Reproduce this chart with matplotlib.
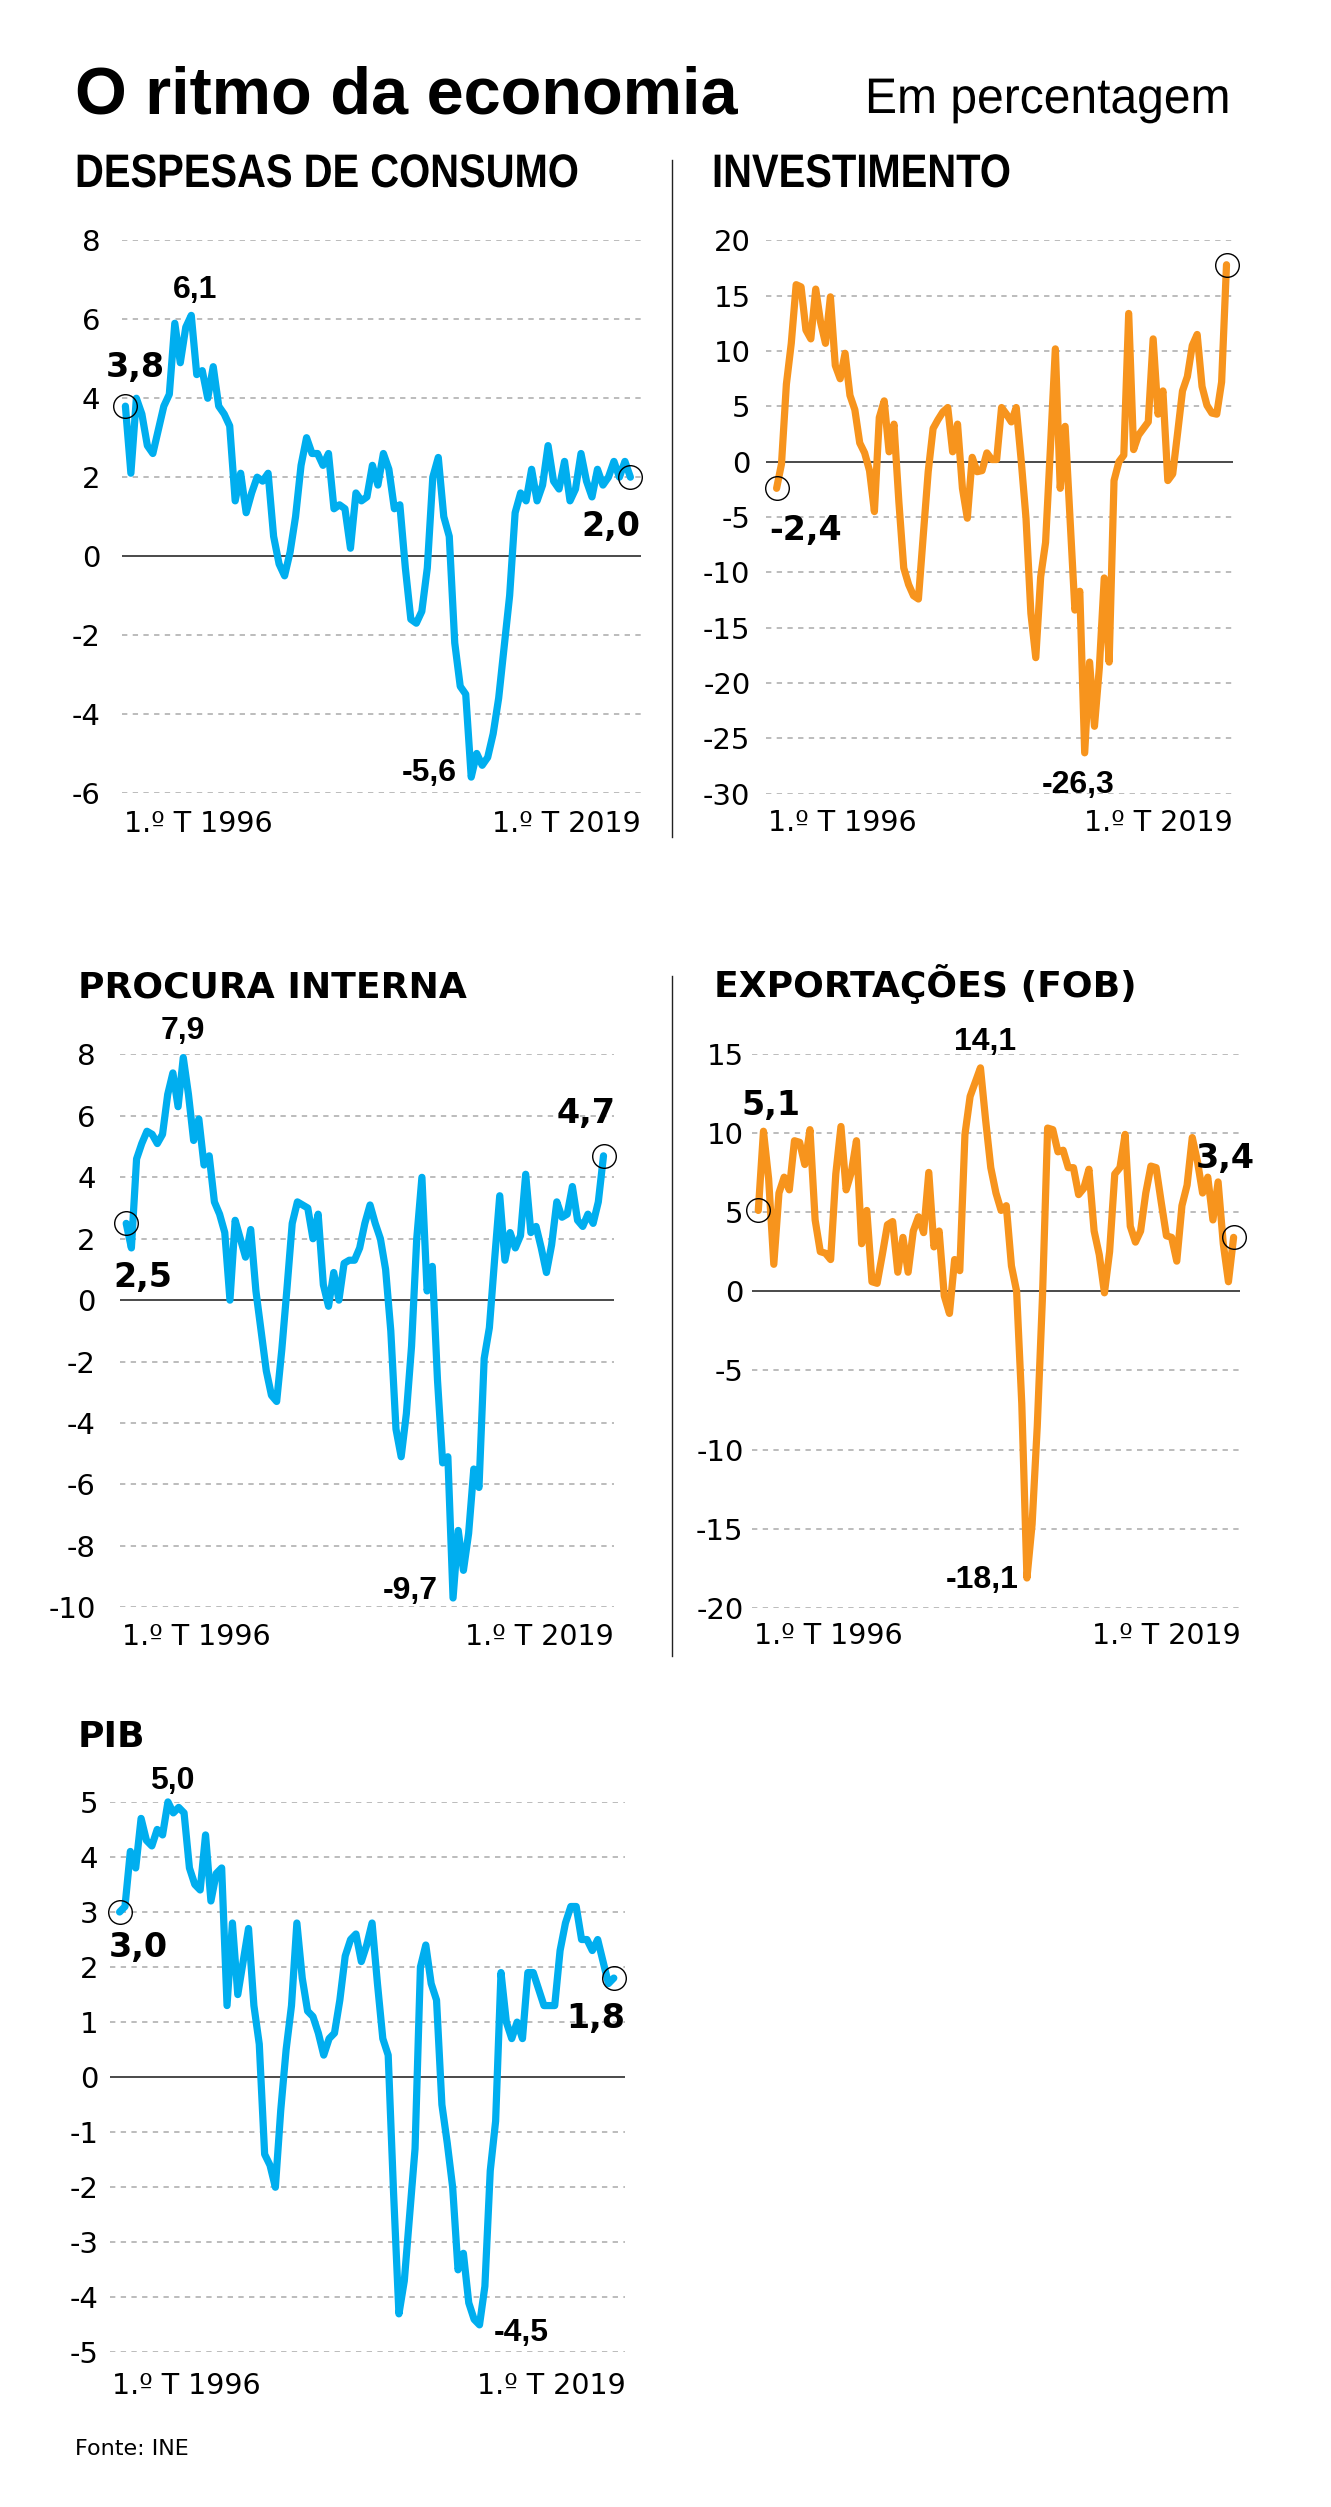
import numpy as np
import matplotlib
matplotlib.use("Agg")
import matplotlib.pyplot as plt
from matplotlib.textpath import TextPath
from matplotlib.patches import PathPatch
from matplotlib.font_manager import FontProperties
from matplotlib.transforms import Affine2D

W, H = 1331, 2507
AZUL = '#00aeef'
LARANJA = '#f7941d'

# trimestres de 1.º T 1996 a 1.º T 2019
trimestres = np.arange(93)
rotulo_ini = '1.º T 1996'
rotulo_fim = '1.º T 2019'

consumo = [3.8, 2.1, 4.0, 3.6, 2.8, 2.6, 3.2, 3.8, 4.1, 5.9,
           4.9, 5.8, 6.1, 4.6, 4.7, 4.0, 4.8, 3.8, 3.6, 3.3,
           1.4, 2.1, 1.1, 1.6, 2.0, 1.9, 2.1, 0.5, -0.2, -0.5,
           0.1, 1.0, 2.3, 3.0, 2.6, 2.6, 2.3, 2.6, 1.2, 1.3,
           1.2, 0.2, 1.6, 1.4, 1.5, 2.3, 1.8, 2.6, 2.2, 1.2,
           1.3, -0.3, -1.6, -1.7, -1.4, -0.3, 2.0, 2.5, 1.0, 0.5,
           -2.2, -3.3, -3.5, -5.6, -5.0, -5.3, -5.1, -4.5, -3.6, -2.3,
           -1.0, 1.1, 1.6, 1.4, 2.2, 1.4, 1.8, 2.8, 1.9, 1.7,
           2.4, 1.4, 1.7, 2.6, 1.9, 1.5, 2.2, 1.8, 2.0, 2.4,
           2.0, 2.4, 2.0]

investimento = [-2.4, -0.2, 7.0, 10.7, 16.0, 15.8, 11.9, 11.1, 15.6, 12.6,
                10.7, 14.9, 8.7, 7.5, 9.8, 6.0, 4.7, 1.7, 0.8, -0.8,
                -4.5, 4.0, 5.5, 0.9, 3.4, -3.6, -9.6, -11.1, -12.1, -12.4,
                -6.6, -0.9, 3.0, 3.8, 4.5, 4.9, 0.9, 3.4, -2.4, -5.1,
                0.4, -0.9, -0.8, 0.8, 0.2, 0.2, 4.9, 4.3, 3.6, 4.9,
                0.2, -5.1, -13.7, -17.7, -10.4, -7.3, 1.3, 10.2, -2.4, 3.2,
                -5.1, -13.4, -11.7, -26.3, -18.1, -23.9, -18.6, -10.5, -18.1, -1.7,
                0.0, 0.6, 13.4, 1.1, 2.4, 3.0, 3.6, 11.1, 4.3, 6.4,
                -1.7, -1.1, 2.6, 6.4, 7.7, 10.5, 11.5, 6.8, 5.1, 4.4,
                4.3, 7.2, 17.8]

procura = [2.5, 1.7, 4.6, 5.1, 5.5, 5.4, 5.1, 5.4, 6.7, 7.4,
           6.3, 7.9, 6.7, 5.2, 5.9, 4.4, 4.7, 3.2, 2.8, 2.2,
           0.0, 2.6, 2.0, 1.4, 2.3, 0.3, -1.0, -2.3, -3.1, -3.3,
           -1.6, 0.4, 2.5, 3.2, 3.1, 3.0, 2.0, 2.8, 0.5, -0.2,
           0.9, 0.0, 1.2, 1.3, 1.3, 1.7, 2.5, 3.1, 2.5, 2.0,
           1.0, -1.0, -4.2, -5.1, -3.7, -1.5, 2.0, 4.0, 0.3, 1.1,
           -2.6, -5.3, -5.1, -9.7, -7.5, -8.8, -7.6, -5.5, -6.1, -1.9,
           -0.9, 1.3, 3.4, 1.3, 2.2, 1.7, 2.1, 4.1, 2.2, 2.4,
           1.7, 0.9, 1.8, 3.2, 2.7, 2.8, 3.7, 2.6, 2.4, 2.8,
           2.5, 3.2, 4.7]

exportacoes = [5.1, 10.1, 7.1, 1.7, 6.2, 7.2, 6.4, 9.5, 9.4, 8.0,
               10.2, 4.5, 2.5, 2.4, 2.0, 7.4, 10.4, 6.4, 7.5, 9.5,
               3.0, 5.1, 0.6, 0.5, 2.3, 4.2, 4.4, 1.2, 3.4, 1.2,
               3.8, 4.7, 3.7, 7.5, 2.8, 3.8, -0.3, -1.4, 2.0, 1.3,
               9.9, 12.3, 13.2, 14.1, 10.8, 7.8, 6.2, 5.1, 5.4, 1.6,
               0.0, -7.1, -18.1, -14.7, -8.5, -0.4, 10.3, 10.2, 8.8, 8.9,
               7.8, 7.8, 6.1, 6.5, 7.7, 3.8, 2.3, -0.1, 2.5, 7.4,
               7.8, 9.9, 4.1, 3.1, 3.8, 6.2, 7.9, 7.8, 5.6, 3.5,
               3.4, 1.9, 5.4, 6.7, 9.7, 8.2, 6.2, 7.2, 4.5, 6.9,
               3.0, 0.6, 3.4]

pib = [3.0, 3.1, 4.1, 3.8, 4.7, 4.3, 4.2, 4.5, 4.4, 5.0,
       4.8, 4.9, 4.8, 3.8, 3.5, 3.4, 4.4, 3.2, 3.7, 3.8,
       1.3, 2.8, 1.5, 2.1, 2.7, 1.3, 0.6, -1.4, -1.6, -2.0,
       -0.6, 0.5, 1.3, 2.8, 1.8, 1.2, 1.1, 0.8, 0.4, 0.7,
       0.8, 1.4, 2.2, 2.5, 2.6, 2.1, 2.4, 2.8, 1.7, 0.7,
       0.4, -2.1, -4.3, -3.7, -2.5, -1.3, 2.0, 2.4, 1.7, 1.4,
       -0.5, -1.2, -2.0, -3.5, -3.2, -4.1, -4.4, -4.5, -3.8, -1.7,
       -0.8, 1.9, 1.0, 0.7, 1.0, 0.7, 1.9, 1.9, 1.6, 1.3,
       1.3, 1.3, 2.3, 2.8, 3.1, 3.1, 2.5, 2.5, 2.3, 2.5,
       2.1, 1.7, 1.8]

# cada painel: titulo, serie, cor, ticks, posicao (px) e deslocamento dos rotulos (px)
paineis = [
    dict(titulo='DESPESAS DE CONSUMO', serie=consumo, cor=AZUL,
         ticks=np.arange(-6, 9, 2), gx=(121.5, 640.8), dx=(125.4, 630.4), gy=(240.4, 792.9),
         pad=21, xl=31, tit=(75, 187), cond=True,
         rot=[('ini', 10, 39, True), ('max', 4, 25, False), ('min', -42, 4, False), ('fim', -20, -49, True)]),
    dict(titulo='INVESTIMENTO', serie=investimento, cor=LARANJA,
         ticks=np.arange(-30, 21, 5), gx=(765.5, 1232.5), dx=(776.6, 1226.5), gy=(240.4, 793.8),
         pad=15, xl=29, tit=(712, 187), cond=True,
         rot=[('ini', 29, -42, True), ('min', -7, -32, False)]),
    dict(titulo='PROCURA INTERNA', serie=procura, cor=AZUL,
         ticks=np.arange(-10, 9, 2), gx=(119.6, 613.8), dx=(126.2, 603.5), gy=(1054.5, 1607.2),
         pad=24, xl=30, tit=(78, 997), cond=False,
         rot=[('ini', 17, -54, True), ('max', 0, 27, False), ('fim', -17, 42, True), ('min', -43, 7, False)]),
    dict(titulo='EXPORTAÇÕES (FOB)', serie=exportacoes, cor=LARANJA,
         ticks=np.arange(-20, 16, 5), gx=(751.5, 1240.4), dx=(758.3, 1233.6), gy=(1053.6, 1608.1),
         pad=8, xl=28, tit=(714, 997), cond=False,
         rot=[('ini', 13, 105, True), ('max', 5, 26, False), ('min', -45, -2, False), ('fim', -8, 79, True)]),
    dict(titulo='PIB', serie=pib, cor=AZUL,
         ticks=np.arange(-5, 6, 1), gx=(110.0, 625.4), dx=(119.6, 613.8), gy=(1801.9, 2352.4),
         pad=11.5, xl=34, tit=(78, 1747), cond=False,
         rot=[('ini', 19, -36, True), ('max', 4, 21, False), ('fim', -18, -40, True), ('min', 42, -8, False)]),
]


def texto_estreito(fig, x, y, s, em, esc, peso='bold'):
    # texto condensado: caminho do texto comprimido na horizontal (px da figura)
    tp = TextPath((0, 0), s, size=em, prop=FontProperties(family='Liberation Sans', weight=peso))
    tr = Affine2D().scale(esc, 1).translate(x, H - y)
    fig.add_artist(PathPatch(tp, transform=tr, facecolor='black', edgecolor='none'))


fig = plt.figure(figsize=(W / 100, H / 100), dpi=100)
fig.patch.set_facecolor('white')

fig.text(75 / W, 1 - 113 / H, 'O ritmo da economia', fontsize=48, fontweight='bold',
         family=['Liberation Sans', 'DejaVu Sans'], va='baseline', ha='left')
texto_estreito(fig, 865, 113, 'Em percentagem', 50, 0.96, peso='normal')

for p in paineis:
    y = np.array(p['serie'])
    n = len(y)
    gx0, gx1 = p['gx']
    d0, d1 = p['dx']
    top, bot = p['gy']
    ppq = (d1 - d0) / (n - 1)
    ax = fig.add_axes([gx0 / W, 1 - bot / H, (gx1 - gx0) / W, (bot - top) / H])
    ax.set_xlim(-(d0 - gx0) / ppq, (n - 1) + (gx1 - d1) / ppq)
    ax.set_ylim(p['ticks'][0], p['ticks'][-1])
    for t in p['ticks']:
        if t == 0:
            ax.axhline(0, color='#4a4a4a', lw=1.4, zorder=1)
        else:
            ax.axhline(t, color='#aaaaaa', lw=1.1, ls=(0, (3.5, 3.5)), zorder=1)
    ax.plot(trimestres[:n], y, color=p['cor'], lw=5.2, solid_joinstyle='round',
            solid_capstyle='round', zorder=3, clip_on=False)
    for i in (0, n - 1):
        ax.plot(i, y[i], 'o', ms=17, mfc='none', mec='black', mew=1.0, zorder=4, clip_on=False)
    for s in ax.spines.values():
        s.set_visible(False)
    ax.set_xticks([])
    ax.set_yticks(p['ticks'])
    ax.set_yticklabels([str(t) for t in p['ticks']], family='DejaVu Sans', fontsize=21)
    ax.tick_params(axis='y', length=0, pad=p['pad'] * 0.72)
    ax.patch.set_visible(False)

    for txt, ha in ((rotulo_ini, 'left'), (rotulo_fim, 'right')):
        ax.annotate(txt, xy=(0 if ha == 'left' else 1, 0), xycoords='axes fraction',
                    xytext=(2 if ha == 'left' else 0, -p['xl']), textcoords='offset pixels',
                    ha=ha, va='center', fontsize=20.5, family='DejaVu Sans')

    idx = {'ini': 0, 'fim': n - 1, 'max': int(np.argmax(y)), 'min': int(np.argmin(y))}
    for k, ox, oy, forte in p['rot']:
        i = idx[k]
        lab = f'{y[i]:.1f}'.replace('.', ',')
        if forte:
            ax.annotate(lab, xy=(i, y[i]), xytext=(ox, oy), textcoords='offset pixels',
                        ha='center', va='center', fontsize=24, fontweight='bold',
                        family='DejaVu Sans', zorder=5)
        else:
            ax.annotate(lab, xy=(i, y[i]), xytext=(ox, oy), textcoords='offset pixels',
                        ha='center', va='center', fontsize=23, fontweight='bold',
                        family=['Liberation Sans', 'DejaVu Sans'], zorder=5)

    tx, ty = p['tit']
    if p['cond']:
        texto_estreito(fig, tx, ty, p['titulo'], 47, 0.85)
    else:
        fig.text(tx / W, 1 - ty / H, p['titulo'], fontsize=26, fontweight='bold',
                 family='DejaVu Sans', va='baseline', ha='left')

# linhas divisorias
for y0, y1 in ((160, 837), (976, 1656)):
    fig.add_artist(plt.Line2D([672 / W, 672 / W], [1 - y0 / H, 1 - y1 / H],
                              color='#222222', lw=1.0))

fig.text(75 / W, 1 - 2455 / H, 'Fonte: INE', fontsize=16, family='DejaVu Sans',
         va='baseline', ha='left')

fig.savefig('out.png', dpi=100, facecolor='white')
